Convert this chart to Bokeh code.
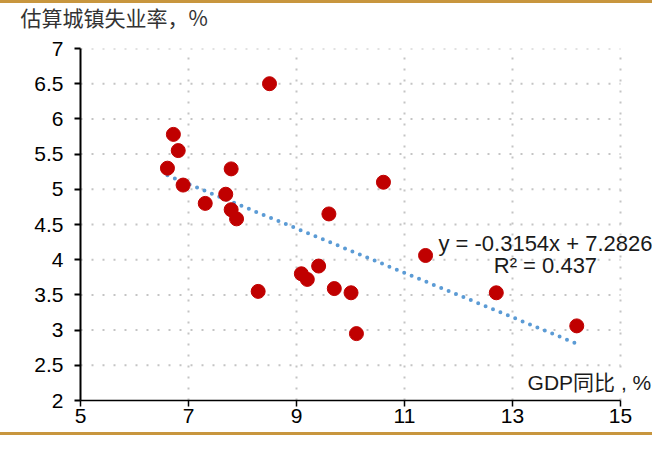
from bokeh.plotting import figure
from bokeh.models import (FixedTicker, NumeralTickFormatter, Label, Div, Range1d)
from bokeh.layouts import column
from bokeh.embed import file_html
from bokeh.resources import INLINE

# ---- data ----
gdp_yoy = [8.50, 6.72, 6.81, 6.61, 6.90, 7.31, 7.69, 7.79, 7.79, 7.89, 9.60,
           10.61, 8.29, 9.09, 9.20, 9.41, 9.70, 11.39, 10.01, 10.11, 12.70, 14.19]
unemp = [6.50, 5.78, 5.55, 5.30, 5.06, 4.80, 4.93, 5.29, 4.71, 4.58, 4.65,
         5.10, 3.55, 3.80, 3.72, 3.91, 3.59, 4.06, 3.53, 2.95, 3.53, 3.06]
trend_slope = -0.3154
trend_intercept = 7.2826
r_squared = 0.437
x_ticks = [5, 7, 9, 11, 13, 15]
y_ticks = [2, 2.5, 3, 3.5, 4, 4.5, 5, 5.5, 6, 6.5, 7]
title_text = "估算城镇失业率，%"
xlabel_text = "GDP同比 , %"

GOLD = "#C8963E"
RED = "#C00000"
BLUE = "#5B9BD5"
GRID = "#C4C4C4"
TICK_FONT = "Liberation Sans"

x_lo, x_hi = x_ticks[0], x_ticks[-1]
y_lo, y_hi = y_ticks[0], y_ticks[-1]

W = 652
TITLE_H = 30
MAIN_H = 435 - 3 - TITLE_H - 3

# ---- title strip: its own small svg figure, the text sits in its title panel
t = figure(width=W, height=TITLE_H, output_backend="svg", toolbar_location=None,
           x_range=Range1d(0, 1), y_range=Range1d(0, 1),
           x_axis_location=None, y_axis_location=None,
           min_border=0)
t.outline_line_color = None
t.xgrid.visible = False
t.ygrid.visible = False
t.title.text = title_text
t.title.align = "left"
t.title.offset = -60
t.title.standoff = 4
t.title.text_font = "Noto Sans CJK SC"
t.title.text_font_size = "21px"
t.title.text_font_style = "normal"
t.title.text_color = "#333333"

# ---- main chart: x 5..15 spans 540 px; extra room on the right for the axis title
p = figure(width=W, height=MAIN_H, output_backend="svg", toolbar_location=None,
           x_range=(x_lo, x_hi + 32 / 54), y_range=(y_lo, y_hi),
           min_border_left=80, min_border_right=0,
           min_border_top=15, min_border_bottom=32)
p.outline_line_color = None
p.background_fill_color = "white"
p.border_fill_color = "white"
p.xgrid.visible = False
p.ygrid.visible = False

# dotted grid drawn from the tick values
p.segment(x0=[x_lo] * (len(y_ticks) - 1), x1=[x_hi] * (len(y_ticks) - 1),
          y0=y_ticks[1:], y1=y_ticks[1:],
          line_color=GRID, line_width=2, line_dash="2 9")
p.segment(x0=x_ticks[1:], x1=x_ticks[1:],
          y0=[y_lo] * (len(x_ticks) - 1), y1=[y_hi] * (len(x_ticks) - 1),
          line_color=GRID, line_width=2, line_dash="2 9")

# axes
p.xaxis.ticker = FixedTicker(ticks=x_ticks)
p.yaxis.ticker = FixedTicker(ticks=y_ticks)
p.xaxis.bounds = (x_lo, x_hi)
p.xaxis.formatter = NumeralTickFormatter(format="0")
p.yaxis.formatter = NumeralTickFormatter(format="0.[0]")
for ax in (p.xaxis, p.yaxis):
    ax.axis_line_color = "black"
    ax.major_tick_line_color = "black"
    ax.major_tick_in = 0
    ax.major_tick_out = 6
    ax.minor_tick_line_color = None
    ax.major_label_text_font = TICK_FONT
    ax.major_label_text_font_size = "21px"
    ax.major_label_text_color = "black"
p.yaxis.axis_line_width = 2
p.yaxis.major_tick_line_width = 2
p.xaxis.axis_line_width = 1.5
p.xaxis.major_tick_line_width = 1.5
p.yaxis.major_label_standoff = 11
p.xaxis.major_label_standoff = 2

# trend line
x0, x1 = min(gdp_yoy), max(gdp_yoy)
p.line([x0, x1], [trend_slope * x0 + trend_intercept, trend_slope * x1 + trend_intercept],
       line_color=BLUE, line_width=4, line_dash="0 8", line_cap="round")

# points
p.scatter(gdp_yoy, unemp, size=14, fill_color=RED, line_color=RED)

# equation
eq1 = f"y = {trend_slope}x + {trend_intercept}"
eq2 = f"R² = {r_squared}"
for txt, yy in ((eq1, 4.23), (eq2, 3.92)):
    p.add_layout(Label(x=13.61, y=yy, text=txt, text_align="center",
                       text_baseline="middle", text_font=TICK_FONT,
                       text_font_size="22px", text_color="#1a1a1a"))

# x axis title (inside plot, bottom right)
p.add_layout(Label(x=15.57, y=2.25, text=xlabel_text, text_align="right",
                   text_baseline="middle",
                   text_font="Liberation Sans, Noto Sans CJK SC",
                   text_font_size="21px", text_color="#1a1a1a",
                   background_fill_color="white"))

top_bar = Div(text="", width=W, height=3, margin=0,
              styles={"background-color": GOLD})
bottom_bar = Div(text="", width=W, height=3, margin=0,
                 styles={"background-color": GOLD})
layout = column(top_bar, t, p, bottom_bar, spacing=0)

open("out.html", "w").write(file_html(layout, INLINE))
